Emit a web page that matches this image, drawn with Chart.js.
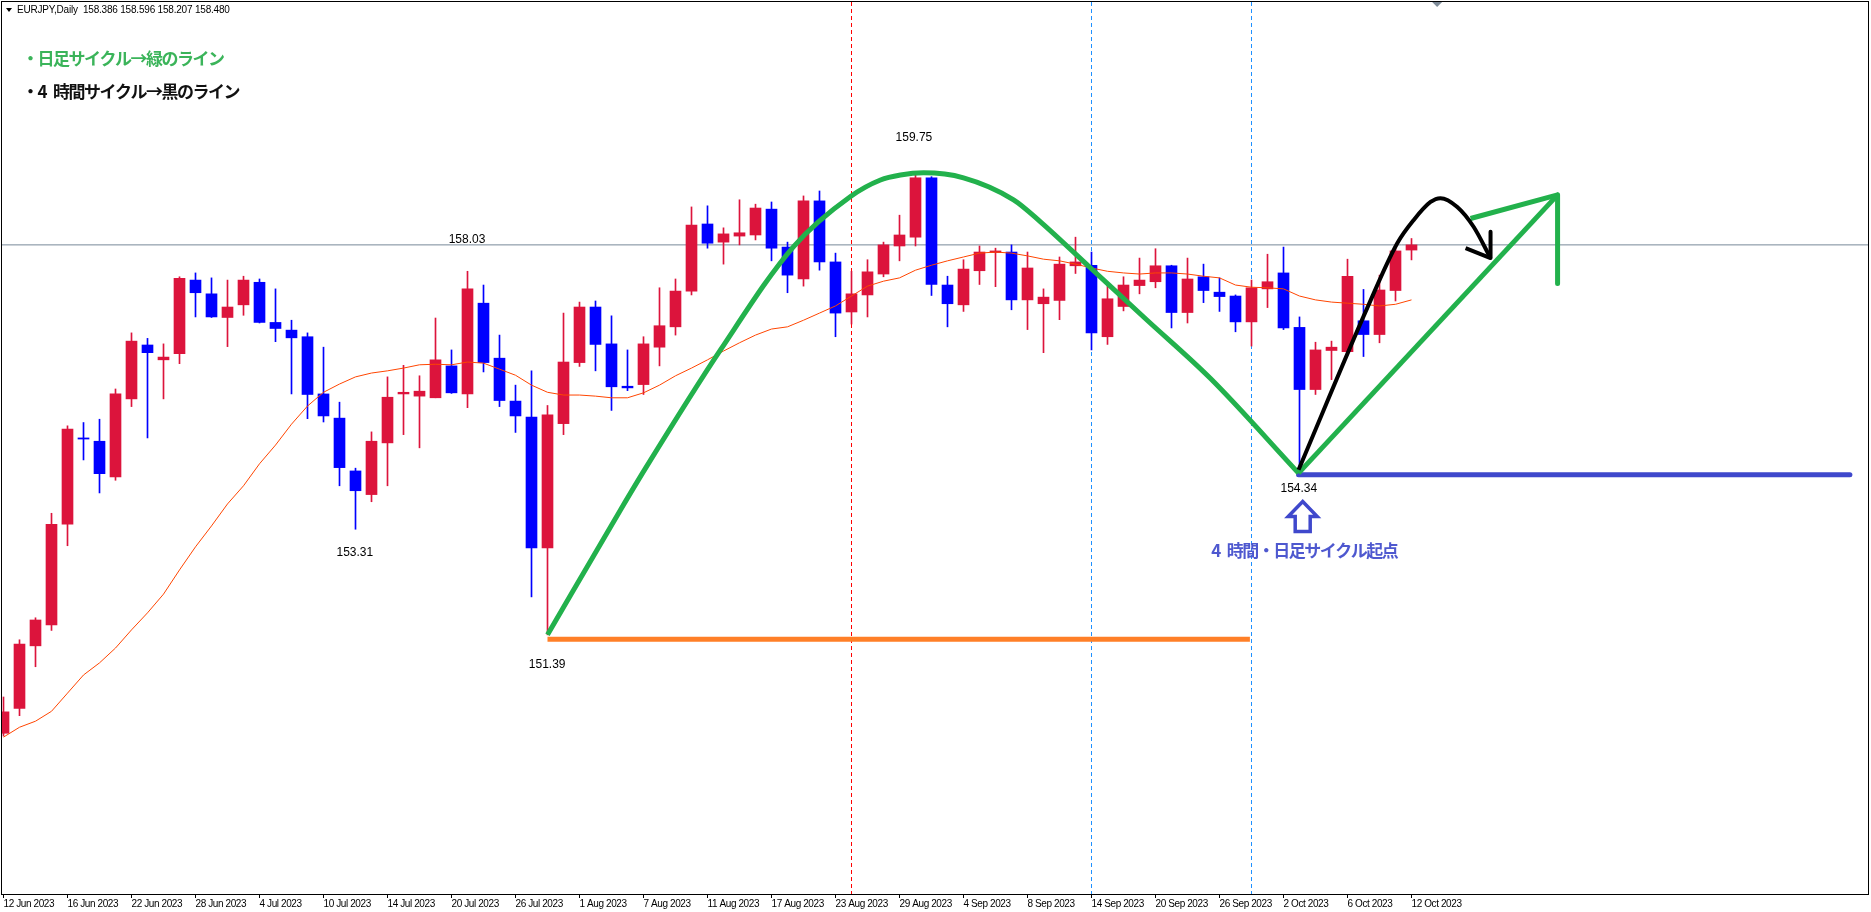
<!DOCTYPE html>
<html>
<head>
<meta charset="utf-8">
<script src="https://cdn.jsdelivr.net/npm/chart.js@4.4.1/dist/chart.umd.min.js"></script>
<style>
  html, body { margin: 0; padding: 0; background: #fff; }
</style>
</head>
<body>
<canvas id="chart" width="1871" height="912"></canvas>
<script>
// EURJPY daily, bar 0 = 12 Jun 2023 ... bar 88 = 12 Oct 2023
const opens = [149.60, 150.05, 151.19, 151.57, 153.40, 154.97, 154.91, 154.26, 155.68, 156.66,
  156.39, 156.50, 157.84, 157.59, 157.16, 157.39, 157.80, 157.07, 156.93, 156.81,
  155.77, 155.33, 154.37, 153.94, 154.88, 155.77, 155.73, 155.70, 156.28, 155.77,
  157.42, 156.42, 155.64, 155.35, 152.97, 155.23, 156.34, 157.35, 156.68, 155.91,
  155.94, 156.62, 156.99, 157.64, 158.86, 158.53, 158.64, 158.66, 159.13, 158.44,
  157.86, 159.28, 158.17, 157.26, 157.57, 157.95, 158.46, 158.62, 159.70, 157.75,
  157.39, 158.01, 158.34, 158.35, 157.48, 157.41, 157.47, 158.10, 158.11, 156.81,
  157.36, 157.74, 157.81, 158.10, 157.25, 157.90, 157.62, 157.55, 157.08, 157.68,
  157.97, 156.98, 155.85, 156.56, 156.54, 157.10, 156.85, 157.65, 158.386];
const highs = [150.26, 151.30, 151.70, 153.60, 155.19, 155.25, 155.31, 155.86, 156.88, 156.78,
  156.68, 157.90, 157.97, 157.88, 157.84, 157.91, 157.86, 157.68, 157.11, 156.88,
  156.62, 155.62, 154.42, 155.08, 156.08, 156.29, 156.10, 157.15, 156.57, 158.00,
  157.75, 156.84, 155.93, 156.19, 155.56, 157.24, 157.44, 157.46, 157.19, 156.57,
  156.81, 157.70, 157.86, 159.17, 159.19, 158.79, 159.30, 159.22, 159.26, 158.53,
  159.37, 159.46, 158.33, 158.00, 158.21, 158.53, 159.02, 159.75, 159.72, 157.91,
  158.21, 158.46, 158.42, 158.48, 158.35, 157.68, 158.26, 158.62, 158.35, 157.79,
  157.90, 158.24, 158.41, 158.11, 158.24, 158.13, 157.88, 157.57, 157.84, 158.31,
  158.44, 157.17, 156.71, 156.73, 158.22, 157.67, 157.93, 158.45, 158.596];
const lows = [149.55, 149.92, 150.81, 151.47, 153.01, 154.57, 153.97, 154.20, 155.54, 154.97,
  155.68, 156.32, 157.17, 157.16, 156.63, 157.20, 157.06, 156.72, 155.77, 155.32,
  155.26, 154.10, 153.31, 153.81, 154.10, 155.03, 154.79, 155.70, 155.78, 155.52,
  156.17, 155.54, 155.07, 152.08, 151.39, 155.03, 156.27, 156.19, 155.47, 155.83,
  155.76, 156.28, 156.84, 157.57, 158.42, 158.13, 158.48, 158.57, 158.19, 157.61,
  157.73, 158.02, 156.81, 157.04, 157.17, 157.90, 158.19, 158.46, 157.56, 156.99,
  157.27, 157.76, 157.72, 157.30, 156.94, 156.52, 157.12, 157.96, 156.57, 156.67,
  157.28, 157.59, 157.70, 156.97, 157.06, 157.43, 157.27, 156.90, 156.64, 157.34,
  156.94, 154.34, 155.76, 156.03, 156.53, 156.45, 156.70, 157.46, 158.207];
const closes = [149.99, 151.22, 151.66, 153.40, 155.13, 154.95, 154.32, 155.77, 156.73, 156.52,
  156.44, 157.87, 157.61, 157.17, 157.35, 157.84, 157.07, 156.96, 156.79, 155.76,
  155.37, 154.43, 154.01, 154.91, 155.71, 155.80, 155.82, 156.39, 155.79, 157.68,
  156.34, 155.65, 155.37, 152.97, 155.39, 156.35, 157.35, 156.67, 155.90, 155.88,
  156.68, 157.01, 157.64, 158.84, 158.51, 158.68, 158.70, 159.15, 158.42, 157.93,
  159.28, 158.17, 157.24, 157.59, 157.99, 158.48, 158.66, 159.70, 157.76, 157.41,
  158.04, 158.35, 158.37, 157.48, 158.06, 157.53, 158.13, 158.17, 156.88, 157.50,
  157.75, 157.84, 158.10, 157.25, 157.86, 157.65, 157.54, 157.08, 157.70, 157.81,
  156.97, 155.85, 156.57, 156.62, 157.91, 156.85, 157.66, 158.37, 158.480];
// moving average as drawn on the chart
const maValues = [149.53, 149.71, 149.82, 150.00, 150.33, 150.66, 150.88, 151.15, 151.48, 151.79,
  152.13, 152.57, 152.99, 153.37, 153.77, 154.10, 154.50, 154.84, 155.22, 155.55,
  155.80, 155.95, 156.08, 156.15, 156.19, 156.24, 156.30, 156.31, 156.30, 156.35,
  156.33, 156.22, 156.11, 155.93, 155.80, 155.75, 155.75, 155.73, 155.70, 155.70,
  155.79, 155.93, 156.10, 156.24, 156.39, 156.55, 156.70, 156.84, 156.95, 156.99,
  157.11, 157.24, 157.37, 157.55, 157.73, 157.82, 157.88, 158.02, 158.11, 158.19,
  158.26, 158.33, 158.35, 158.33, 158.28, 158.22, 158.19, 158.13, 158.06, 158.00,
  157.97, 157.95, 157.97, 157.97, 157.95, 157.91, 157.88, 157.75, 157.71, 157.70,
  157.68, 157.55, 157.48, 157.44, 157.42, 157.40, 157.37, 157.40, 157.48];

const tickBars = [0, 4, 8, 12, 16, 20, 24, 28, 32, 36, 40, 44, 48, 52, 56, 60, 64, 68, 72, 76, 80, 84, 88];
const tickLabels = ['12 Jun 2023', '16 Jun 2023', '22 Jun 2023', '28 Jun 2023', '4 Jul 2023', '10 Jul 2023',
  '14 Jul 2023', '20 Jul 2023', '26 Jul 2023', '1 Aug 2023', '7 Aug 2023', '11 Aug 2023', '17 Aug 2023',
  '23 Aug 2023', '29 Aug 2023', '4 Sep 2023', '8 Sep 2023', '14 Sep 2023', '20 Sep 2023', '26 Sep 2023',
  '2 Oct 2023', '6 Oct 2023', '12 Oct 2023'];

// hand drawn lines: [bar, price]
const dailyCycle = [[34.0, 151.39], [38.56, 153.66], [40.13, 154.42], [44.81, 156.57], [49.38, 158.45],
  [52.94, 159.36], [54.81, 159.66], [56.06, 159.75], [57.5, 159.79], [60.0, 159.70], [63.13, 159.30],
  [64.81, 158.90], [67.94, 158.06], [71.48, 157.11], [75.44, 156.05], [80.94, 154.33]];
const dailyNext = [[80.94, 154.33], [97.13, 159.39]];
const dailyHead = [[91.69, 158.96], [97.13, 159.39], [97.13, 157.78]];
const fourHourCycle = [[80.94, 154.39], [85.23, 157.33], [87.11, 158.51], [88.13, 158.93], [89.19, 159.26],
  [89.81, 159.33], [90.86, 159.17], [91.88, 158.81], [92.94, 158.24]];
const fourHourHead = [[92.94, 158.72], [92.94, 158.24], [91.38, 158.42]];
const lowLine = [[34.0, 151.31], [77.9, 151.31]];
const startLine = [[80.94, 154.30], [115.4, 154.30]];

const redMarkers = [53];
const blueMarkers = [68, 78];

const priceLabels = [
  { text: '159.75', bar: 56.9, price: 160.42 },
  { text: '158.03', bar: 28.97, price: 158.57 },
  { text: '153.31', bar: 21.96, price: 152.89 },
  { text: '151.39', bar: 33.98, price: 150.84 },
  { text: '154.34', bar: 80.96, price: 154.04 }
];

const xMin = -0.09375, xMax = 116.53125;
const yMin = 146.678, yMax = 162.896;
const upColor = '#DC143C';
const downColor = '#0000FF';
const jpFont = '"Noto Sans CJK JP", sans-serif';

const toXY = (pts) => pts.map(p => ({ x: p[0], y: p[1] }));
const barColor = (ctx) => {
  const i = ctx.dataIndex;
  if (i === undefined) return upColor;
  return closes[i] >= opens[i] ? upColor : downColor;
};

const drawingsPlugin = {
  id: 'drawings',
  beforeDraw(chart) {
    // axis labels are a bit condensed in the terminal font
    chart.ctx.letterSpacing = '-0.4px';
  },
  beforeDatasetsDraw(chart) {
    const { ctx, chartArea, scales } = chart;
    ctx.letterSpacing = '0px';
    ctx.save();
    ctx.lineWidth = 1;
    ctx.setLineDash([4, 3]);
    const vline = (bar, color) => {
      const x = Math.floor(scales.x.getPixelForValue(bar)) + 0.5;
      ctx.strokeStyle = color;
      ctx.beginPath();
      ctx.moveTo(x, chartArea.top);
      ctx.lineTo(x, chartArea.bottom);
      ctx.stroke();
    };
    redMarkers.forEach(b => vline(b, '#FF0000'));
    blueMarkers.forEach(b => vline(b, '#1E90FF'));
    ctx.restore();
  },
  afterDatasetsDraw(chart) {
    const { ctx, scales } = chart;
    ctx.save();
    // price labels
    ctx.fillStyle = '#000';
    ctx.font = '12px Arial, "Liberation Sans", sans-serif';
    ctx.textAlign = 'center';
    ctx.textBaseline = 'middle';
    priceLabels.forEach(l => {
      ctx.fillText(l.text, scales.x.getPixelForValue(l.bar), scales.y.getPixelForValue(l.price));
    });

    // hollow up arrow under the low
    const ax = scales.x.getPixelForValue(81.2);
    const ay = scales.y.getPixelForValue(153.54);
    ctx.strokeStyle = '#3F48CC';
    ctx.lineWidth = 3.5;
    ctx.lineJoin = 'miter';
    ctx.beginPath();
    ctx.moveTo(ax, ay - 15);
    ctx.lineTo(ax + 14.5, ay);
    ctx.lineTo(ax + 7.5, ay);
    ctx.lineTo(ax + 7.5, ay + 15);
    ctx.lineTo(ax - 7.5, ay + 15);
    ctx.lineTo(ax - 7.5, ay);
    ctx.lineTo(ax - 14.5, ay);
    ctx.closePath();
    ctx.stroke();

    ctx.fillStyle = '#4E58CF';
    ctx.font = 'bold 17px ' + jpFont;
    ctx.letterSpacing = '-1.5px';
    ctx.fillText('4\u2002時間・日足サイクル起点', scales.x.getPixelForValue(81.3), scales.y.getPixelForValue(152.92));
    ctx.restore();
  },
  afterDraw(chart) {
    const { ctx, chartArea, scales } = chart;
    ctx.save();
    // frame
    ctx.strokeStyle = '#000';
    ctx.lineWidth = 1;
    ctx.strokeRect(chartArea.left - 0.5, chartArea.top - 0.5, chartArea.right - chartArea.left + 1, chartArea.bottom - chartArea.top + 1);

    // shift marker
    const sx = scales.x.getPixelForValue(89.6);
    ctx.fillStyle = '#7F8C99';
    ctx.beginPath();
    ctx.moveTo(sx - 5, chartArea.top);
    ctx.lineTo(sx + 5, chartArea.top);
    ctx.lineTo(sx, chartArea.top + 5);
    ctx.closePath();
    ctx.fill();

    // symbol header
    const last = closes.length - 1;
    ctx.fillStyle = '#000';
    ctx.beginPath();
    ctx.moveTo(6, 8);
    ctx.lineTo(12, 8);
    ctx.lineTo(9, 12);
    ctx.closePath();
    ctx.fill();
    ctx.font = '10px "Liberation Sans", sans-serif';
    ctx.letterSpacing = '-0.2px';
    ctx.textAlign = 'left';
    ctx.textBaseline = 'middle';
    const ohlc = [opens[last], highs[last], lows[last], closes[last]].map(v => v.toFixed(3)).join(' ');
    ctx.fillText('EURJPY,Daily  ' + ohlc, 17, 10);

    // notes
    ctx.font = 'bold 17px ' + jpFont;
    ctx.letterSpacing = '-1.5px';
    ctx.fillStyle = '#3BB45A';
    ctx.fillText('・日足サイクル→緑のライン', 22, 59);
    ctx.fillStyle = '#111';
    ctx.fillText('・4\u2002時間サイクル→黒のライン', 22, 92);
    ctx.restore();
  }
};

const bars = opens.map((o, i) => i);

new Chart(document.getElementById('chart'), {
  type: 'bar',
  data: {
    datasets: [
      {
        type: 'line', data: [{ x: xMin, y: closes[closes.length - 1] }, { x: xMax, y: closes[closes.length - 1] }],
        borderColor: '#778899', borderWidth: 1, pointRadius: 0, order: 20
      },
      {
        data: bars.map(i => ({ x: i, y: [lows[i], highs[i]] })),
        backgroundColor: barColor, barThickness: 1, grouped: false, order: 15
      },
      {
        data: bars.map(i => ({ x: i, y: [opens[i], closes[i]] })),
        backgroundColor: barColor, barThickness: 11, minBarLength: 1, grouped: false, order: 14
      },
      {
        type: 'line', data: bars.map(i => ({ x: i, y: maValues[i] })),
        borderColor: '#FF4500', borderWidth: 1, pointRadius: 0, order: 12
      },
      {
        type: 'line', data: toXY(lowLine),
        borderColor: '#FF7F27', borderWidth: 5, pointRadius: 0, order: 6
      },
      {
        type: 'line', data: toXY(startLine),
        borderColor: '#3F48CC', borderWidth: 5, borderCapStyle: 'round', pointRadius: 0, order: 6
      },
      {
        type: 'line', data: toXY(dailyCycle),
        borderColor: '#22B14C', borderWidth: 5, cubicInterpolationMode: 'monotone', pointRadius: 0, order: 5
      },
      {
        type: 'line', data: toXY(dailyNext),
        borderColor: '#22B14C', borderWidth: 5, pointRadius: 0, order: 5
      },
      {
        type: 'line', data: toXY(dailyHead),
        borderColor: '#22B14C', borderWidth: 5, borderJoinStyle: 'round', pointRadius: 0, order: 5
      },
      {
        type: 'line', data: toXY(fourHourCycle),
        borderColor: '#000', borderWidth: 4, cubicInterpolationMode: 'monotone', pointRadius: 0, order: 4
      },
      {
        type: 'line', data: toXY(fourHourHead),
        borderColor: '#000', borderWidth: 4, borderJoinStyle: 'round', pointRadius: 0, order: 4
      }
    ]
  },
  options: {
    responsive: false,
    animation: false,
    layout: { padding: { left: 2, right: 3, top: 2, bottom: 0 } },
    plugins: { legend: { display: false }, tooltip: { enabled: false } },
    scales: {
      x: {
        type: 'linear',
        offset: false,
        min: xMin,
        max: xMax,
        afterBuildTicks: (axis) => { axis.ticks = tickBars.map(v => ({ value: v })); },
        afterFit: (axis) => { axis.height = 18; },
        ticks: {
          autoSkip: false,
          maxRotation: 0,
          align: 'start',
          padding: 0,
          color: '#000',
          font: { family: '"Liberation Sans", sans-serif', size: 10 },
          callback: (value, index) => tickLabels[index]
        },
        grid: { offset: false, drawOnChartArea: false, drawTicks: true, tickLength: 4, tickColor: '#000' },
        border: { display: true, color: '#000', width: 1 }
      },
      y: { display: false, min: yMin, max: yMax }
    }
  },
  plugins: [drawingsPlugin]
});
</script>
</body>
</html>
